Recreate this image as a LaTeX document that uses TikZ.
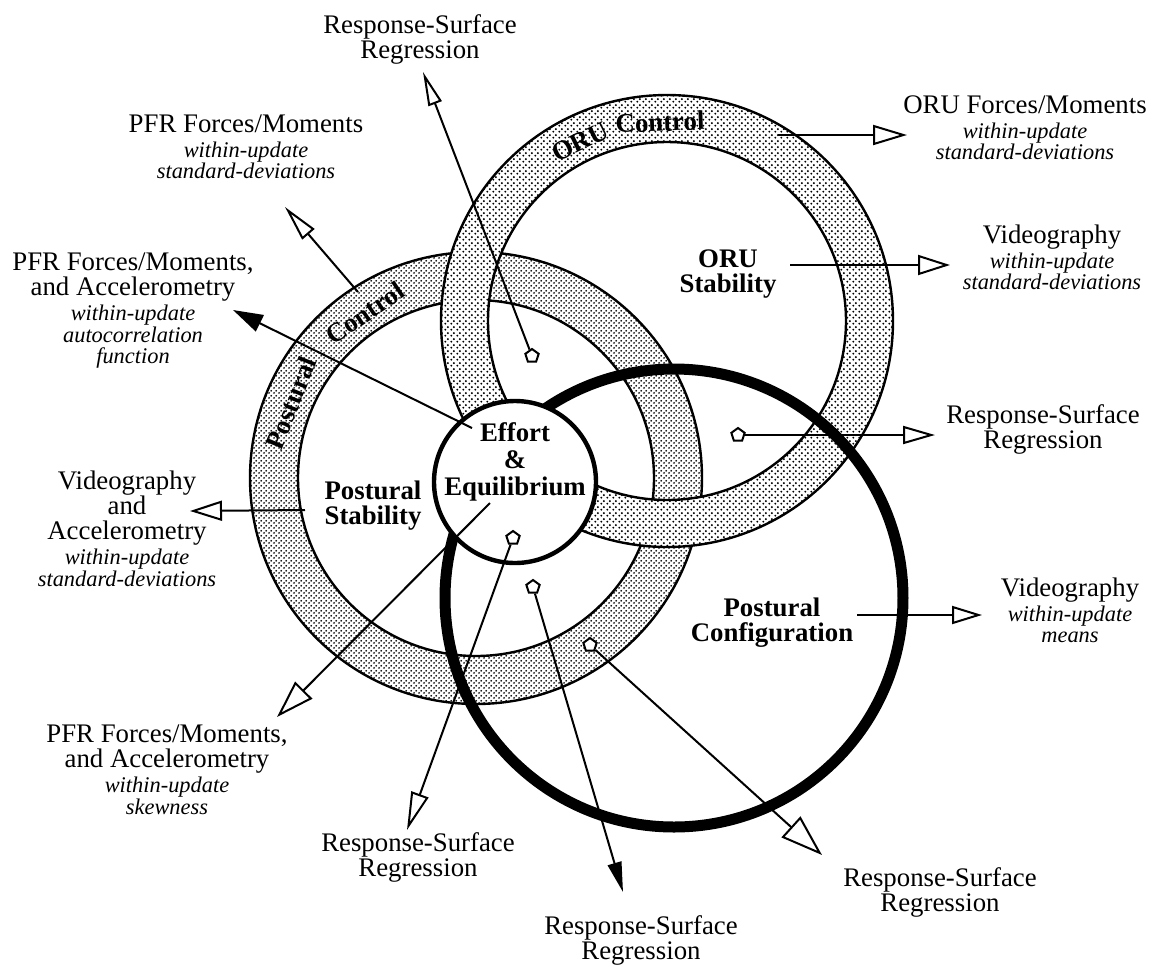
\documentclass[tikz,border=0pt]{standalone}
\usepackage{fontspec}
\setmainfont{Liberation Serif}
\usetikzlibrary{arrows.meta,patterns,shapes.geometric}
\newcommand{\labfont}{\fontsize{13.4pt}{12.6pt}\selectfont}
\newcommand{\ringfont}{\bfseries\fontsize{13.4pt}{15pt}\selectfont}
\newcommand{\smallit}[1]{{\itshape\fontsize{11.2pt}{11pt}\selectfont #1}}
\pgfdeclarepatternformonly{oruDots}{\pgfpointorigin}{\pgfpoint{3pt}{3pt}}{\pgfpoint{3pt}{3pt}}{%
	\pgfpathcircle{\pgfpoint{0.75pt}{0.75pt}}{0.6pt}
	\pgfpathcircle{\pgfpoint{2.25pt}{2.25pt}}{0.6pt}
	\pgfusepath{fill}}
\pgfdeclarepatternformonly{posDots}{\pgfpointorigin}{\pgfpoint{2.3pt}{2.3pt}}{\pgfpoint{2.3pt}{2.3pt}}{%
	\pgfpathcircle{\pgfpoint{0.575pt}{0.575pt}}{0.52pt}
	\pgfpathcircle{\pgfpoint{1.725pt}{1.725pt}}{0.52pt}
	\pgfusepath{fill}}
\tikzset{
	ring/.style={line width=1.2pt, even odd rule, preaction={fill=white, even odd rule}},
	ringlab/.style={inner sep=0pt, font=\ringfont},
	conn/.style={line width=1pt},
	openhead/.style 2 args={conn, -{Triangle[open, length=#1, width=#2]}},
	fillhead/.style 2 args={conn, -{Triangle[length=#1, width=#2]}},
	penta/.style={regular polygon, regular polygon sides=5, draw, fill=white, line width=1pt, minimum size=7pt, inner sep=0pt},
	lab/.style={align=center, inner sep=0pt, anchor=north, font=\labfont},
	boldlab/.style={lab, font=\labfont\bfseries},
}

\begin{document}
\begin{tikzpicture}[x=0.5pt, y=-0.5pt]
		%%%%% START %%%%%
		\useasboundingbox (0,0) rectangle (1153,966);
		
		\coordinate (pc) at (476,478);
		\coordinate (oc) at (667,321);
		
		\draw[ring, pattern=posDots] (pc) circle (226) (pc) circle (178);
		\draw[ring, pattern=oruDots] (oc) circle (226) (oc) circle (179);
		
		\node[ringlab, rotate=68] (posWord) at (291,403) {Postural};
		\node[ringlab, rotate=34] (posCtl) at (365,313) {Control};
		\node[ringlab, rotate=26] (oruWord) at (580,142) {ORU};
		\node[ringlab, rotate=2] (oruCtl) at (660,122) {Control};
		
		\draw[line width=5.5pt] (674,598) circle (229);
		\draw[line width=2.2pt, fill=white] (515,482) circle (81);
		
		\node[penta] (p1) at (532,356) {};
		\node[penta] (p6) at (513,538) {};
		\node[penta] (p7) at (533,587) {};
		\node[penta] (p8) at (590,645) {};
		\node[penta] (p10) at (738,435) {};
		
		\coordinate (s2) at (358,292);
		\coordinate (s3) at (472,428);
		\coordinate (s4) at (305,510);
		\coordinate (s5) at (490,503);
		\coordinate (s9) at (857,615);
		\coordinate (s11) at (790,265);
		\coordinate (s12) at (778,135);
		
		\coordinate (t1) at (423,72);
		\coordinate (t2) at (285,207);
		\coordinate (t3) at (233,310);
		\coordinate (t4) at (190,511);
		\coordinate (t5) at (277,717);
		\coordinate (t6) at (407,830);
		\coordinate (t7) at (623,892);
		\coordinate (t8) at (822,855);
		\coordinate (t9) at (982,615);
		\coordinate (t10) at (935,435);
		\coordinate (t11) at (950,265);
		\coordinate (t12) at (907,135);
		
		\draw[openhead={17pt}{7pt}] (p1) -- (t1);
		\draw[openhead={18pt}{8pt}] (s2) -- (t2);
		\draw[fillhead={15pt}{9pt}] (s3) -- (t3);
		\draw[openhead={16pt}{10pt}] (s4) -- (t4);
		\draw[openhead={19pt}{12pt}] (s5) -- (t5);
		\draw[openhead={19pt}{9pt}] (p6) -- (t6);
		\draw[fillhead={15pt}{7pt}] (p7) -- (t7);
		\draw[openhead={21pt}{14pt}] (p8) -- (t8);
		\draw[openhead={15pt}{9pt}] (s9) -- (t9);
		\draw[openhead={16pt}{9pt}] (p10) -- (t10);
		\draw[openhead={16pt}{10pt}] (s11) -- (t11);
		\draw[openhead={17pt}{10pt}] (s12) -- (t12);
		
		\node[boldlab] (oruStab) at (728,249) {ORU\\Stability};
		\node[boldlab] (posStab) at (373,480) {Postural\\Stability};
		\node[boldlab] (effEq) at (515,422) {Effort\\[1pt]\&\\[1pt]Equilibrium};
		\node[boldlab] (posConf) at (772,597) {Postural\\Configuration};
		
		\node[lab] (rsTop) at (420,14) {Response-Surface\\Regression};
		\node[lab] (pfrSd) at (246,114) {PFR Forces/Moments\\\smallit{within-update}\\[-1.8pt]\smallit{standard-deviations}};
		\node[lab] (pfrAuto) at (133,252) {PFR Forces/Moments,\\and Accelerometry\\\smallit{within-update}\\[-1.8pt]\smallit{autocorrelation}\\[-1.8pt]\smallit{function}};
		\node[lab] (vidAcc) at (127,470) {Videography\\and\\Accelerometry\\\smallit{within-update}\\[-1.8pt]\smallit{standard-deviations}};
		\node[lab] (pfrSkew) at (167,724) {PFR Forces/Moments,\\and Accelerometry\\\smallit{within-update}\\[-1.8pt]\smallit{skewness}};
		\node[lab] (rsLeft) at (418,832) {Response-Surface\\Regression};
		\node[lab] (rsMid) at (641,915) {Response-Surface\\Regression};
		\node[lab] (rsLow) at (940,867) {Response-Surface\\Regression};
		\node[lab] (vidMean) at (1070,577) {Videography\\\smallit{within-update}\\[-1.8pt]\smallit{means}};
		\node[lab] (rsRight) at (1043,404) {Response-Surface\\Regression};
		\node[lab] (vidSd) at (1052,224) {Videography\\\smallit{within-update}\\[-1.8pt]\smallit{standard-deviations}};
		\node[lab] (oruSd) at (1025,95) {ORU Forces/Moments\\\smallit{within-update}\\[-1.8pt]\smallit{standard-deviations}};
		
		%%%%% END %%%%%
\end{tikzpicture}
\end{document}
